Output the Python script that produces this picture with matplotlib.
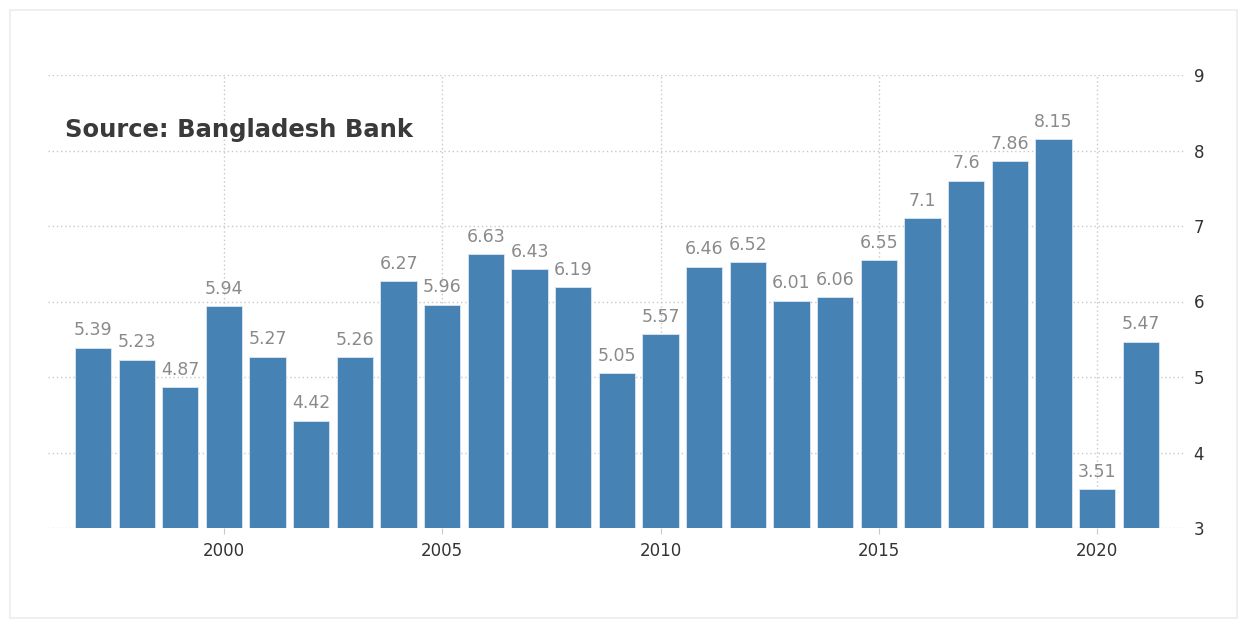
import matplotlib
matplotlib.use("Agg")
import matplotlib.pyplot as plt
from matplotlib.patches import Rectangle

years = list(range(1997, 2022))
values = [5.39, 5.23, 4.87, 5.94, 5.27, 4.42, 5.26, 6.27, 5.96, 6.63, 6.43, 6.19,
          5.05, 5.57, 6.46, 6.52, 6.01, 6.06, 6.55, 7.1, 7.6, 7.86, 8.15, 3.51, 5.47]
labels = ["5.39", "5.23", "4.87", "5.94", "5.27", "4.42", "5.26", "6.27", "5.96", "6.63",
          "6.43", "6.19", "5.05", "5.57", "6.46", "6.52", "6.01", "6.06", "6.55", "7.1",
          "7.6", "7.86", "8.15", "3.51", "5.47"]
xticks = [2000, 2005, 2010, 2015, 2020]
yticks = [3, 4, 5, 6, 7, 8, 9]

fig = plt.figure(figsize=(12.47, 6.2), dpi=100)
fig.patches.append(Rectangle((10 / 1247, 2 / 620), 1227 / 1247, 608 / 620,
                             transform=fig.transFigure, fill=False,
                             edgecolor="#ececec", linewidth=1.2))
ax = fig.add_axes([48 / 1247, 1 - 528 / 620, (1184 - 48) / 1247, (528 - 75) / 620])

ax.bar(years, [v - 3 for v in values], bottom=3, width=0.83, color="#4682B4",
       edgecolor="#dce6f0", linewidth=0.6, zorder=3)
for x, v, t in zip(years, values, labels):
    ax.text(x, v + 0.11, t, ha="center", va="bottom", fontsize=12.5,
            color="#8a8a8a", zorder=4)

ax.set_xlim(1995.97, 2021.99)
ax.set_ylim(3, 9)
ax.set_xticks(xticks)
ax.set_yticks(yticks)
ax.yaxis.tick_right()
ax.grid(True, linestyle=(0, (1, 2)), color="#c8c8c8", linewidth=1, zorder=0)
for s in ax.spines.values():
    s.set_visible(False)
ax.tick_params(axis="y", length=0, pad=7, labelsize=12, labelcolor="#333333")
ax.tick_params(axis="x", length=4, color="#c8c8c8", pad=6, labelsize=12,
               labelcolor="#333333")

fig.text(65 / 1247, 1 - 130 / 620, "Source: Bangladesh Bank", fontsize=17.5,
         fontweight="bold", color="#3a3a3a", va="center", ha="left")

fig.savefig("out.png", dpi=100)
